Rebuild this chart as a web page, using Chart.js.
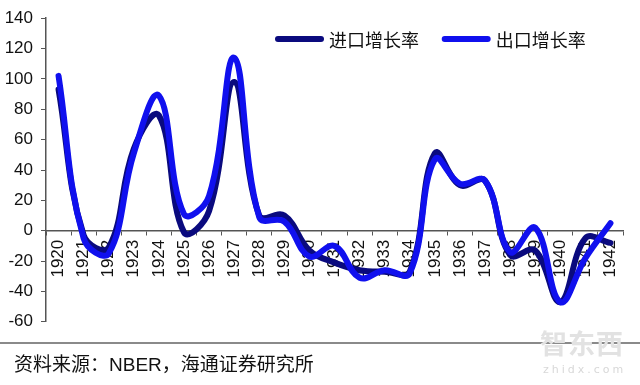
<!DOCTYPE html>
<html>
<head>
<meta charset="utf-8">
<script src="https://cdn.jsdelivr.net/npm/chart.js@4"></script>
<style>
  body { margin: 0; background: #fff; width: 640px; height: 385px; position: relative; overflow: hidden; }
  #wrap { position: absolute; left: 0; top: 0; width: 640px; height: 340px; }
  .rule { position: absolute; left: 0; top: 342px; width: 640px; height: 2px; background: #8a8a8a; }
  .source { position: absolute; left: 14px; top: 355px; font: 19px "Liberation Sans", "Noto Sans CJK SC", sans-serif; line-height: 20px; color: #111; white-space: nowrap; }
  .wm1 { position: absolute; left: 540px; top: 323px; font: bold 27px "Noto Sans CJK SC", sans-serif; color: #e2e2e2; letter-spacing: 1px; }
  .wm2 { position: absolute; left: 543px; top: 363px; font: 11px "DejaVu Sans", sans-serif; color: #d8d8d8; letter-spacing: 3px; }
</style>
</head>
<body>
<div id="wrap"><canvas id="myChart" width="640" height="340"></canvas></div>
<div class="rule"></div>
<div class="wm1">智东西</div>
<div class="wm2">zhidx.com</div>
<div class="source">资料来源：NBER，海通证券研究所</div>
<script>
// years on the x axis
const years = ["1920", "1921", "1922", "1923", "1924", "1925", "1926", "1927", "1928", "1929", "1930",
  "1931", "1932", "1933", "1934", "1935", "1936", "1937", "1938", "1939", "1940", "1941", "1942"];

// growth rates (%)
const importGrowth = [93, -3, -11, 54, 76, -1, 13, 98, 10, 10, -13, -21, -26, -27, -27, 51, 30, 33, -16, -13, -47, -5, -8];
const exportGrowth = [102, -5, -15, 51, 89, 11, 23, 114, 9, 6, -17, -10, -31, -26, -28, 47, 31, 33, -14, 2, -47, -18, 5];

const yTicks = [-60, -40, -20, 0, 20, 40, 60, 80, 100, 120, 140];

// legend drawn inside the plot, one row, like the original
const insideLegend = {
  id: "insideLegend",
  afterDraw(chart) {
    const c = chart.ctx;
    let x = 278;
    const y = 39;
    chart.data.datasets.forEach((ds) => {
      c.save();
      c.strokeStyle = ds.borderColor;
      c.lineWidth = 6;
      c.lineCap = "round";
      c.beginPath();
      c.moveTo(x, y);
      c.lineTo(x + 43, y);
      c.stroke();
      c.fillStyle = "#111";
      c.font = "18px 'Noto Sans CJK SC', sans-serif";
      c.textBaseline = "middle";
      c.fillText(ds.label, x + 51, y + 1);
      c.restore();
      x += 166.7;
    });
  },
};

const ctx = document.getElementById("myChart");

let myChart = new Chart(ctx, {
  type: "line",
  data: {
    labels: years,
    datasets: [
      {
        label: "进口增长率",
        data: importGrowth,
        borderColor: "#0a0a7e",
        borderWidth: 6,
        borderCapStyle: "round",
        borderJoinStyle: "round",
        pointRadius: 0,
        tension: 0.4,
        order: 1,
      },
      {
        label: "出口增长率",
        data: exportGrowth,
        borderColor: "#1010ee",
        borderWidth: 6,
        borderCapStyle: "round",
        borderJoinStyle: "round",
        pointRadius: 0,
        tension: 0.4,
        order: 0,
      },
    ],
  },
  options: {
    responsive: false,
    animation: false,
    layout: { padding: { left: 0, right: 17, top: 13, bottom: 18 } },
    plugins: {
      tooltip: { enabled: false },
      legend: { display: false },
    },
    scales: {
      x: {
        position: { y: 0 },
        offset: true,
        afterFit: (scale) => { scale.height = 0; },
        grid: { display: true, drawOnChartArea: false, offset: true, tickLength: 4, color: "#555" },
        border: { display: true, color: "#555", width: 1.5 },
        ticks: {
          autoSkip: false,
          minRotation: 90,
          maxRotation: 90,
          padding: 5,
          color: "#111",
          font: { family: "'Liberation Sans', Arial, sans-serif", size: 17 },
        },
      },
      y: {
        min: -60,
        max: 140,
        afterFit: (scale) => { scale.width = 46; },
        afterBuildTicks: (scale) => { scale.ticks = yTicks.map((v) => ({ value: v })); },
        grid: { display: true, drawOnChartArea: false, tickLength: 5, color: "#555" },
        border: { display: true, color: "#555", width: 1.5 },
        ticks: {
          padding: 8,
          color: "#111",
          font: { family: "'Liberation Sans', Arial, sans-serif", size: 17 },
        },
      },
    },
  },
  plugins: [insideLegend],
});
</script>
</body>
</html>
